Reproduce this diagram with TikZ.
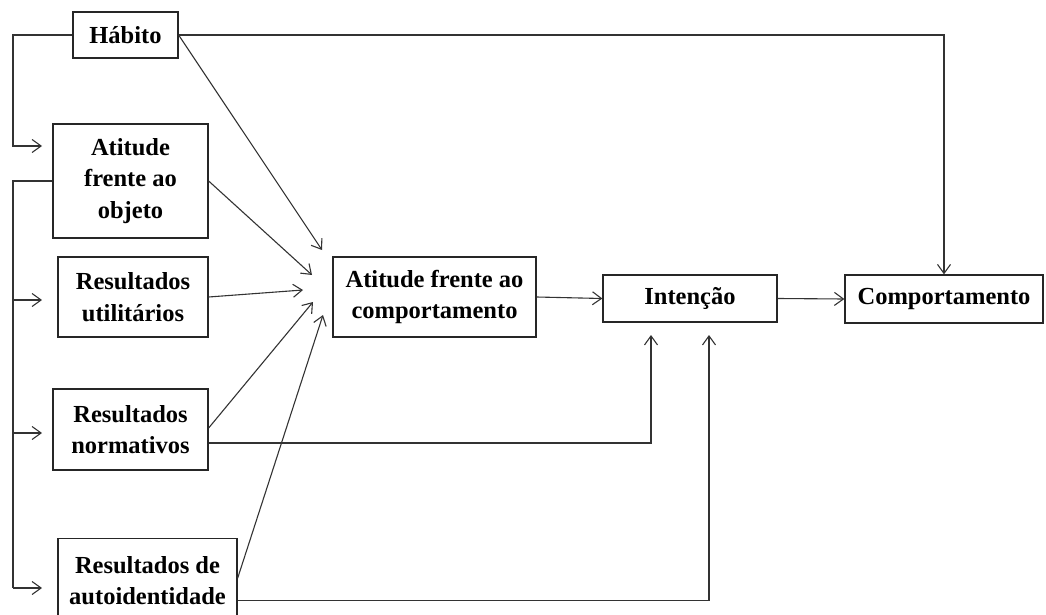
\documentclass[tikz,border=0pt]{standalone}
\usepackage{fontspec}
\setmainfont{Liberation Serif}
\usetikzlibrary{arrows.meta}
\begin{document}
\begin{tikzpicture}[x=1pt,y=-1pt,
  box/.style={draw=black!85,line width=1.3pt,inner sep=0pt,align=center,
    font=\fontsize{24.5}{31.5}\selectfont\bfseries},
  arr/.style={draw=black!80,line width=1.1pt,-{Straight Barb[length=9pt,width=13pt,line width=1.1pt]}},
  ln/.style={draw=black!80,line width=1.1pt}]
\useasboundingbox (0,0) rectangle (1046,615);
\node[box,minimum width=105,minimum height=46] (hab) at (125.5,35) {Hábito};
\node[box,minimum width=155,minimum height=114] (atobj) at (130.5,181) {Atitude\\frente ao\\objeto};
\node[box,minimum width=150,minimum height=80] (util) at (133,297) {Resultados\\utilitários};
\node[box,minimum width=155,minimum height=81] (norm) at (130.5,429.5) {Resultados\\normativos};
\node[box,minimum width=179,minimum height=84,anchor=north] (auto) at (147.5,538) {Resultados de\\autoidentidade};
\node[box,minimum width=203,minimum height=80] (atcomp) at (434.5,297) {Atitude frente ao\\comportamento};
\node[box,minimum width=174,minimum height=47] (int) at (690,298.5) {Intenção};
\node[box,minimum width=198,minimum height=48] (comp) at (944,299) {Comportamento};
% free arrow ends
\coordinate (a1) at (42,146);
\coordinate (a2) at (42,300);
\coordinate (a3) at (42,433);
\coordinate (a4) at (42,588);
\coordinate (t1) at (322,250);
\coordinate (t2) at (312,275);
\coordinate (t3) at (303,290);
\coordinate (t4) at (313,302);
\coordinate (t5) at (323,315);
\coordinate (i1) at (651,335);
\coordinate (i2) at (709,335);
% left feeder lines
\draw[arr] (hab.west) -- (13,35) |- (a1);
\draw[ln] (atobj.west) -| (13,588);
\draw[arr] (13,300) -- (a2);
\draw[arr] (13,433) -- (a3);
\draw[arr] (13,588) -- (a4);
% habit to behaviour
\draw[arr] (hab.east) -| (comp.north);
% converging arrows
\draw[arr] (hab.east) -- (t1);
\draw[arr] (atobj.east) -- (t2);
\draw[arr] (util.east) -- (t3);
\draw[arr] ([yshift=1.5]norm.east) -- (t4);
\draw[arr] ([yshift=2.5]auto.east) -- (t5);
% main chain
\draw[arr] (atcomp.east) -- (int.west);
\draw[arr] (int.east) -- (comp.west);
% feedback to intention
\draw[arr] ([yshift=-13.5]norm.east) -| (i1);
\draw[arr] ([yshift=-20]auto.east) -| (i2);
\end{tikzpicture}
\end{document}
